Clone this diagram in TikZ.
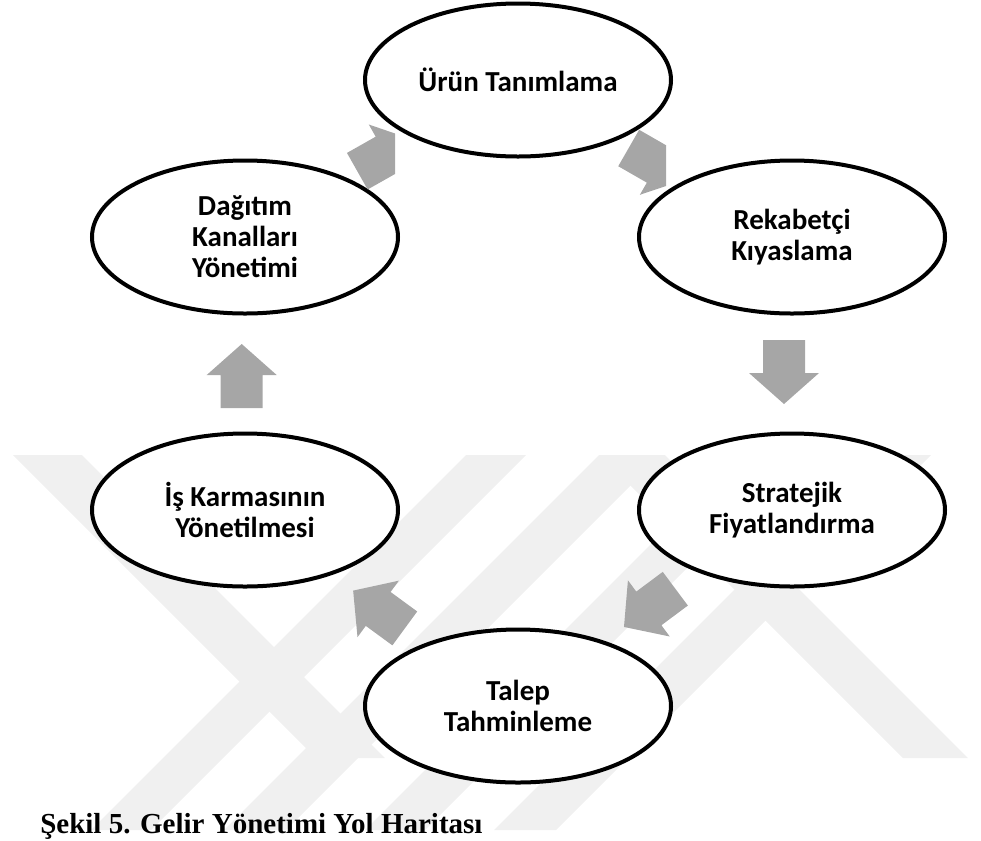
\documentclass[tikz,border=0pt]{standalone}
\usepackage{fontspec}
\setmainfont{Carlito}
\newfontfamily\capfont{Liberation Serif}
\usetikzlibrary{shapes.geometric}
\definecolor{arrowgray}{RGB}{166,166,166}
\definecolor{markgray}{RGB}{240,240,240}
\tikzset{
  stage/.style={ellipse, draw=black, line width=3pt, fill=white,
    minimum width=229.5pt, minimum height=114.75pt, inner sep=0pt,
    align=center, font=\bfseries\fontsize{21.75}{23.25}\selectfont},
  band/.style={fill=markgray, draw=none},
}
% block arrow: tail centre (#1), direction angle #2
\newcommand\cyclearrow[2]{%
  \begin{scope}[shift={(#1)}, rotate=#2]
    \fill[arrowgray] (0,-21) -- (33,-21) -- (33,-35) -- (64,0) -- (33,35)
      -- (33,21) -- (0,21) -- cycle;
  \end{scope}}
\begin{document}
\begin{tikzpicture}[x=0.75pt,y=-0.75pt]
\useasboundingbox (0,0) rectangle (981,840);
\clip (0,0) rectangle (981,840);

% faint background mark made of diagonal stripes
\fill[band] (466,455) -- (526,455) -- (151,830) -- (91,830) -- cycle;
\fill[band] (599,455) -- (661,455) -- (286,830) -- (224,830) -- cycle;
\fill[band] (740,455) -- (800,455) -- (425,830) -- (365,830) -- cycle;
\fill[band] (869,455) -- (931,455) -- (556,830) -- (494,830) -- cycle;
\fill[band] (13,455) -- (82,455) -- (385,758) -- (316,758) -- cycle;
\fill[band] (600,455) -- (665,455) -- (968,758) -- (903,758) -- cycle;

% stages of the cycle
\node[stage] (uru) at (518,80)  {Ürün Tanımlama};
\node[stage] (rek) at (792,237) {Rekabetçi\\Kıyaslama};
\node[stage] (str) at (792,510) {Stratejik\\Fiyatlandırma};
\node[stage] (tal) at (518,706) {Talep\\Tahminleme};
\node[stage] (isk) at (245,510) {İş Karmasının\\Yönetilmesi};
\node[stage] (dag) at (245,237) {Dağıtım\\Kanalları\\Yönetimi};

% arrow tails between neighbouring stages
\coordinate (a1) at (357.3,171.2);
\coordinate (a2) at (628.7,148);
\coordinate (a3) at (784,340);
\coordinate (a4) at (675.3,588.7);
\coordinate (a5) at (404.8,628.4);
\coordinate (a6) at (241.7,408);

\begin{scope}
  \clip (0,0) rectangle (395,840);
  \cyclearrow{a1}{29.5}
\end{scope}
\begin{scope}
  \clip (0,0) rectangle (666,840);
  \cyclearrow{a2}{-29.9}
\end{scope}
\cyclearrow{a3}{-90}
\cyclearrow{a4}{216.7}
\cyclearrow{a5}{143.8}
\cyclearrow{a6}{90}

% caption
\node[anchor=base west, inner sep=0pt, font=\capfont\bfseries\fontsize{21.75}{24}\selectfont]
  (cap) at (40,833) {Şekil 5. Gelir Yönetimi Yol Haritası};
\end{tikzpicture}
\end{document}
